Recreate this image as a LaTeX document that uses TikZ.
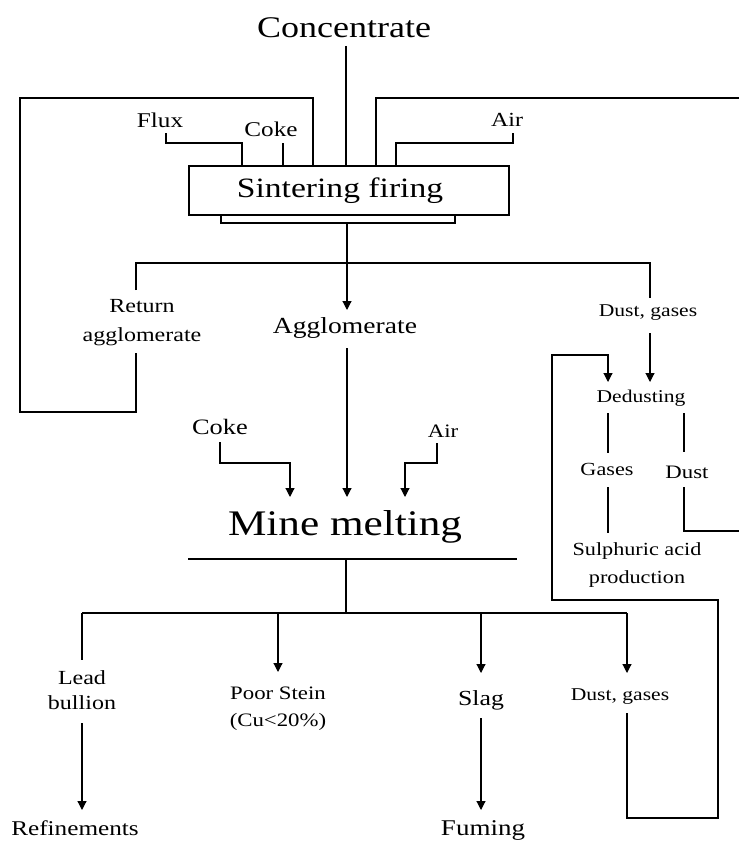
\documentclass[tikz,border=0pt]{standalone}
\usepackage{fontspec}
\setmainfont{Liberation Serif}
\usetikzlibrary{arrows.meta}
\newcommand{\hstretch}[1]{\scalebox{1.2}[1]{#1}}
\newcommand{\twoline}[2]{\hstretch{\begin{tabular}{@{}c@{}}#1\\#2\end{tabular}}}
\begin{document}
\begin{tikzpicture}[x=1pt,y=-1pt,
  ln/.style={line width=1.15pt},
  arr/.style={line width=1.15pt,-{Triangle[length=9pt,width=9pt]}},
  txt/.style 2 args={inner sep=0pt,align=center,font=\fontsize{#1}{#2}\selectfont}]
\useasboundingbox (0,0) rectangle (739,843);

% ---------- text nodes ----------
\node[txt={30}{36}] (conc) at (344,28) {\hstretch{Concentrate}};
\node[draw,ln,minimum width=320pt,minimum height=49pt,inner sep=0pt,
      font=\fontsize{28}{34}\selectfont] (sint) at (349,190.5) {\hspace*{-18pt}\hstretch{Sintering firing}};
\node[txt={21}{25}] (flux) at (160,120) {\hstretch{Flux}};
\node[txt={21}{25}] (coke1) at (271,129) {\hstretch{Coke}};
\node[txt={20}{24}] (air1) at (507,120) {\hstretch{Air}};
\node[txt={20}{29}] (ret) at (142,321) {\twoline{Return}{agglomerate}};
\node[txt={23}{28}] (agg) at (345,328) {\hstretch{Agglomerate}};
\node[txt={18}{24}] (dg1) at (648,313) {\hstretch{Dust, gases}};
\node[txt={18}{24}] (ded) at (641,398) {\hstretch{Dedusting}};
\node[txt={18.5}{24}] (gas) at (607,469) {\hstretch{Gases}};
\node[txt={19}{24}] (dust) at (687,472) {\hstretch{Dust}};
\node[txt={18.5}{28}] (sulf) at (637,564) {\twoline{Sulphuric acid}{production}};
\node[txt={22}{26}] (coke2) at (220,427) {\hstretch{Coke}};
\node[txt={19}{24}] (air2) at (443,431) {\hstretch{Air}};
\node[txt={36}{42}] (mine) at (345,527) {\hstretch{Mine melting}};
\node[txt={20}{25}] (lead) at (82,692) {\twoline{Lead}{bullion}};
\node[txt={19}{27}] (poor) at (278,708) {\twoline{Poor Stein}{(Cu<20\%)}};
\node[txt={21.5}{26}] (slag) at (481,700) {\hstretch{Slag}};
\node[txt={18}{24}] (dg2) at (620,697) {\hstretch{Dust, gases}};
\node[txt={21}{26}] (ref) at (75,828) {\hstretch{Refinements}};
\node[txt={22.5}{27}] (fum) at (483,830) {\hstretch{Fuming}};

% ---------- coordinates ----------
\coordinate (cTop) at (346,46);
\coordinate (lA) at (313,98);  \coordinate (lB) at (20,98);
\coordinate (lC) at (20,412);  \coordinate (lD) at (136,412);
\coordinate (lE) at (136,353);
\coordinate (rA) at (376,98);  \coordinate (rB) at (739,98);
\coordinate (fA) at (166,133); \coordinate (fB) at (166,143); \coordinate (fC) at (242,143);
\coordinate (kA) at (283,143);
\coordinate (aA) at (513,133); \coordinate (aB) at (513,143); \coordinate (aC) at (396,143);
\coordinate (tA) at (221,215); \coordinate (tB) at (221,223);
\coordinate (tC) at (455,223); \coordinate (tD) at (455,215);
\coordinate (mA) at (347,223); \coordinate (mB) at (347,310);
\coordinate (bA) at (136,290); \coordinate (bB) at (136,263);
\coordinate (bC) at (650,263); \coordinate (bD) at (650,298);
\coordinate (dA) at (650,333); \coordinate (dB) at (650,382);
\coordinate (rc1) at (627,713); \coordinate (rc2) at (627,818);
\coordinate (rc3) at (718,818); \coordinate (rc4) at (718,600);
\coordinate (rc5) at (552,600); \coordinate (rc6) at (552,355);
\coordinate (rc7) at (608,355); \coordinate (rc8) at (608,382);
\coordinate (gA) at (608,413); \coordinate (gB) at (608,453);
\coordinate (gC) at (608,487); \coordinate (gD) at (608,533);
\coordinate (uA) at (684,413); \coordinate (uB) at (684,452);
\coordinate (uC) at (684,487); \coordinate (uD) at (684,531); \coordinate (uE) at (739,531);
\coordinate (k2A) at (220,442); \coordinate (k2B) at (220,463);
\coordinate (k2C) at (290,463); \coordinate (k2D) at (290,497);
\coordinate (m2A) at (347,348); \coordinate (m2B) at (347,497);
\coordinate (a2A) at (437,443); \coordinate (a2B) at (437,463);
\coordinate (a2C) at (405,463); \coordinate (a2D) at (405,497);
\coordinate (unA) at (188,559); \coordinate (unB) at (517,559);
\coordinate (oA) at (346,559); \coordinate (oB) at (346,613);
\coordinate (brL) at (82,613); \coordinate (brR) at (627,613);
\coordinate (leA) at (82,660); \coordinate (leB) at (82,723); \coordinate (leC) at (82,810);
\coordinate (poA) at (278,613); \coordinate (poB) at (278,672);
\coordinate (slA) at (481,613); \coordinate (slB) at (481,673);
\coordinate (slC) at (481,718); \coordinate (slD) at (481,810);
\coordinate (dgA) at (627,673);

% ---------- connectors ----------
\draw[ln] (cTop) -- (cTop |- sint.north);
\draw[ln] (lA |- sint.north) -- (lA) -- (lB) -- (lC) -- (lD) -- (lE);
\draw[ln] (rA |- sint.north) -- (rA) -- (rB);
\draw[ln] (fA) -- (fB) -- (fC) -- (fC |- sint.north);
\draw[ln] (kA) -- (kA |- sint.north);
\draw[ln] (aA) -- (aB) -- (aC) -- (aC |- sint.north);
\draw[ln] (tA) -- (tB) -- (tC) -- (tD);
\draw[arr] (mA) -- (mB);
\draw[ln] (bA) -- (bB) -- (bC) -- (bD);
\draw[arr] (dA) -- (dB);
\draw[arr] (rc1) -- (rc2) -- (rc3) -- (rc4) -- (rc5) -- (rc6) -- (rc7) -- (rc8);
\draw[ln] (gA) -- (gB);
\draw[ln] (gC) -- (gD);
\draw[ln] (uA) -- (uB);
\draw[ln] (uC) -- (uD) -- (uE);
\draw[arr] (k2A) -- (k2B) -- (k2C) -- (k2D);
\draw[arr] (m2A) -- (m2B);
\draw[arr] (a2A) -- (a2B) -- (a2C) -- (a2D);
\draw[ln] (unA) -- (unB);
\draw[ln] (oA) -- (oB);
\draw[ln] (brL) -- (brR);
\draw[ln] (brL) -- (leA);
\draw[arr] (leB) -- (leC);
\draw[arr] (poA) -- (poB);
\draw[arr] (slA) -- (slB);
\draw[arr] (slC) -- (slD);
\draw[arr] (brR) -- (dgA);
\end{tikzpicture}
\end{document}
